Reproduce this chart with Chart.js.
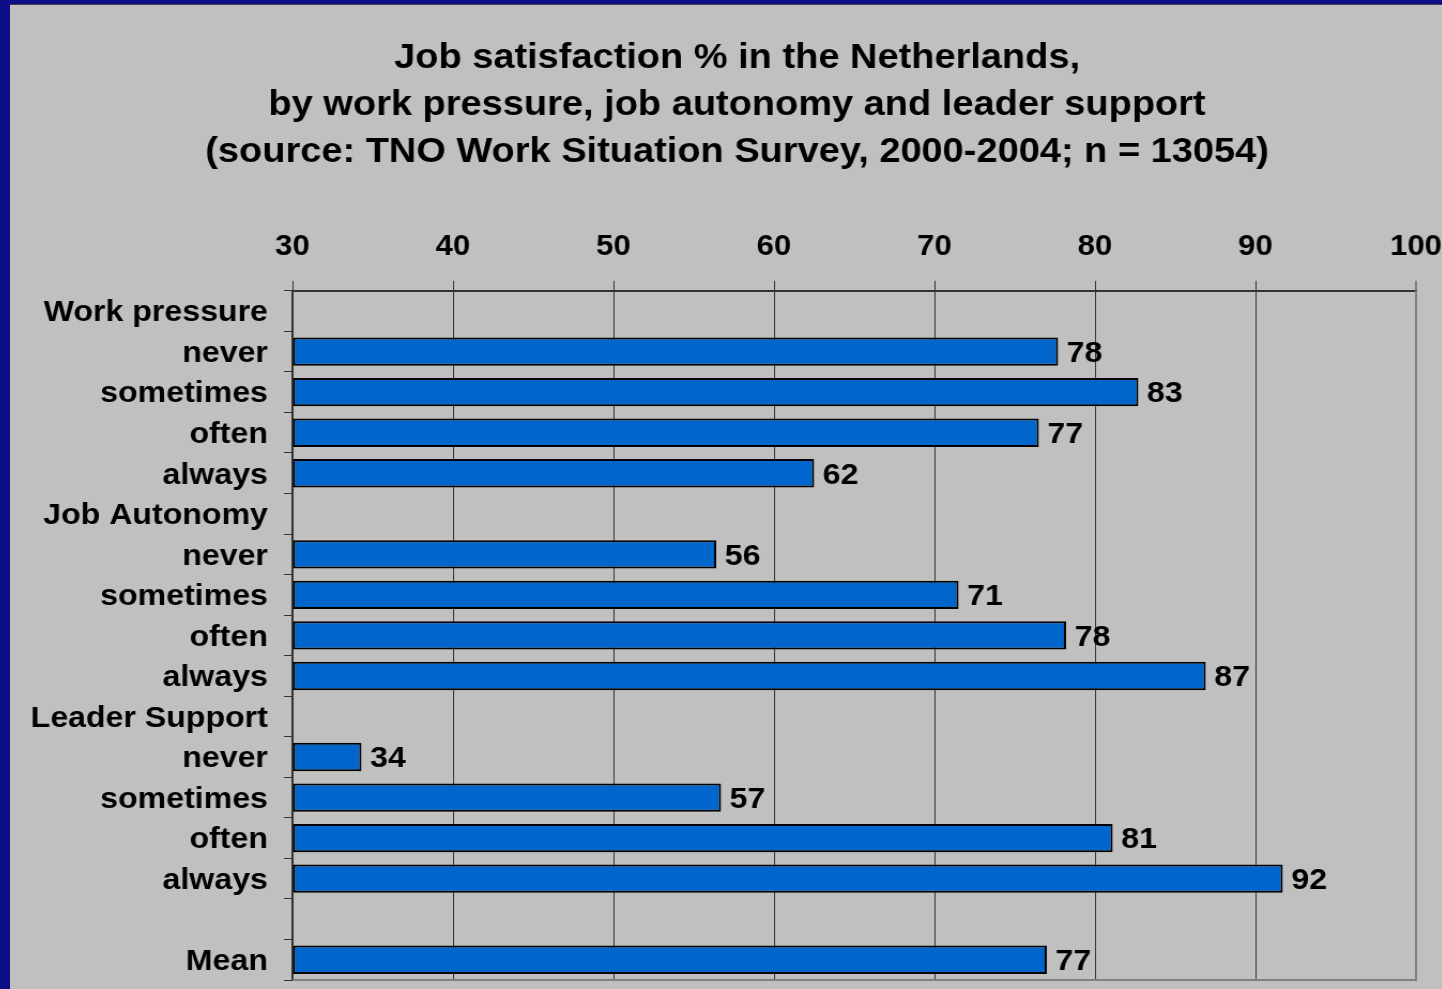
<!DOCTYPE html>
<html>
<head>
<meta charset="utf-8">
<script src="https://cdn.jsdelivr.net/npm/chart.js@4/dist/chart.umd.min.js"></script>
<style>
  html, body { margin: 0; padding: 0; width: 1442px; height: 989px; overflow: hidden; background: #0e0e8a; }
  #wrap { position: absolute; left: 10px; top: 4px; width: 1432px; height: 985px; background: #c0c0c0; border-top: 1px solid #404040; overflow: hidden; }
  canvas { display: block; transform: scaleX(1.07); transform-origin: 0 0; }
</style>
</head>
<body>
<div id="wrap"><canvas id="c" width="1338" height="985" style="width:1338px;height:985px"></canvas></div>
<script>
const titleLines = [
  "Job satisfaction % in the Netherlands,",
  "by work pressure, job autonomy and leader support",
  "(source: TNO Work Situation Survey, 2000-2004; n = 13054)"
];
const categories = [
  "Work pressure", "never", "sometimes", "often", "always",
  "Job Autonomy", "never", "sometimes", "often", "always",
  "Leader Support", "never", "sometimes", "often", "always",
  "", "Mean"
];
const workPressure = [77.7, 82.7, 76.5, 62.5];
const jobAutonomy = [56.4, 71.5, 78.2, 86.9];
const leaderSupport = [34.3, 56.7, 81.1, 91.7];
const meanValue = [77.0];
const valueLabels = [null, 78, 83, 77, 62, null, 56, 71, 78, 87, null, 34, 57, 81, 92, null, 77];
const xMin = 30, xMax = 100, xStep = 10;

const values = [null, ...workPressure, null, ...jobAutonomy, null, ...leaderSupport, null, ...meanValue];

const FONT = "'Liberation Sans', Arial, sans-serif";

const valueLabelPlugin = {
  id: 'valueLabels',
  afterDatasetsDraw(chart) {
    const ctx = chart.ctx;
    const meta = chart.getDatasetMeta(0);
    ctx.save();
    ctx.font = "bold 30px " + FONT;
    ctx.fillStyle = "#000";
    ctx.textAlign = "left";
    ctx.textBaseline = "middle";
    meta.data.forEach((bar, i) => {
      if (values[i] == null) return;
      ctx.fillText(String(valueLabels[i]), bar.x + 8, bar.y + 2);
    });
    ctx.restore();
  }
};

const framePlugin = {
  id: 'frame',
  afterDraw(chart) {
    const a = chart.chartArea, ctx = chart.ctx;
    ctx.save();
    ctx.strokeStyle = "#808080";
    ctx.lineWidth = 2;
    ctx.beginPath();
    ctx.moveTo(a.right, a.top);
    ctx.lineTo(a.right, a.bottom);
    ctx.lineTo(a.left, a.bottom);
    ctx.stroke();
    ctx.restore();
  }
};

new Chart(document.getElementById('c'), {
  type: 'bar',
  data: {
    labels: categories,
    datasets: [{
      data: values,
      base: xMin,
      backgroundColor: "#0066cc",
      borderColor: "#000000",
      borderWidth: 2,
      borderSkipped: false,
      categoryPercentage: 1,
      barPercentage: 0.7
    }]
  },
  options: {
    indexAxis: 'y',
    responsive: false,
    maintainAspectRatio: false,
    animation: false,
    devicePixelRatio: 1,
    layout: { padding: { left: 21, right: 0, top: 0, bottom: 10 } },
    plugins: {
      legend: { display: false },
      tooltip: { enabled: false },
      title: {
        display: true,
        text: titleLines,
        color: "#000",
        font: { family: FONT, size: 35.5, weight: 'bold', lineHeight: 1.324 },
        padding: { top: 30, bottom: 38 }
      }
    },
    scales: {
      x: {
        position: 'top',
        min: xMin,
        max: xMax,
        ticks: {
          stepSize: xStep,
          color: "#000",
          padding: 16,
          font: { family: FONT, size: 29, weight: 'bold' }
        },
        grid: {
          color: (c) => c.tick && c.tick.value === xMax ? "#808080" : "#333333",
          lineWidth: (c) => c.tick && c.tick.value === xMax ? 2 : 1,
          tickLength: 10,
          drawTicks: true
        },
        border: { display: true, color: "#333333", width: 2 },
        afterFit(scale) { scale.paddingLeft = 0; scale.paddingRight = 24; }
      },
      y: {
        ticks: {
          color: "#000",
          padding: 15,
          labelOffset: 2,
          autoSkip: false,
          font: { family: FONT, size: 30, weight: 'bold' }
        },
        grid: {
          offset: true,
          drawOnChartArea: false,
          drawTicks: true,
          tickLength: 8,
          color: "#333333"
        },
        border: { display: true, color: "#333333", width: 2 },
        afterFit(scale) { scale.width = 243; scale.paddingTop = 0; scale.paddingBottom = 0; }
      }
    }
  },
  plugins: [valueLabelPlugin, framePlugin]
});
</script>
</body>
</html>
